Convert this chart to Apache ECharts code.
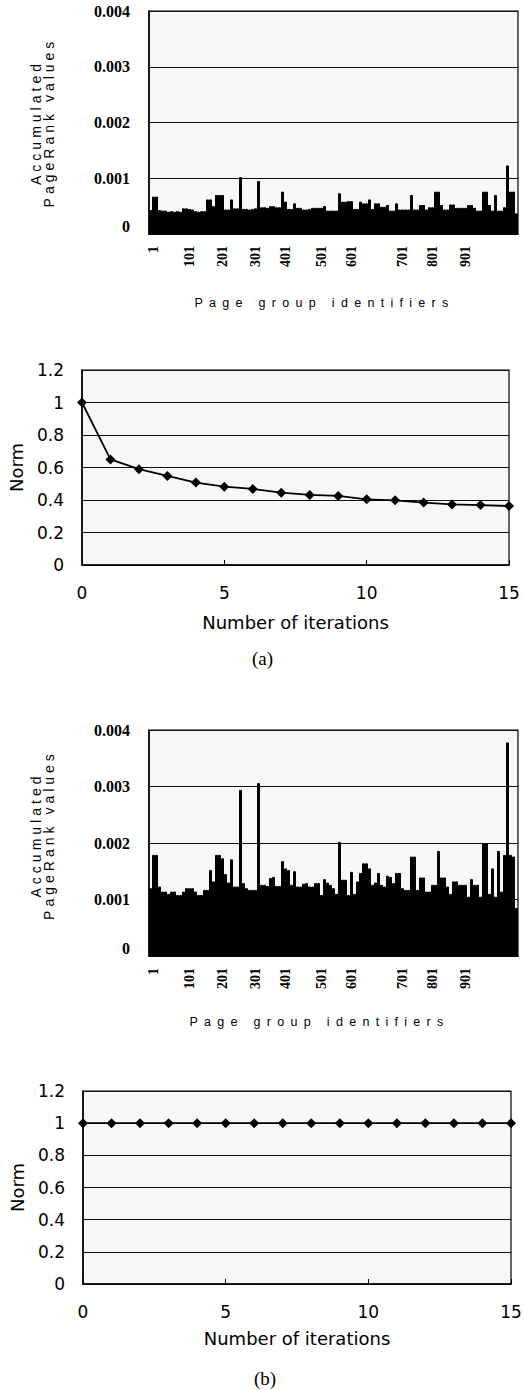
<!DOCTYPE html>
<html>
<head>
<meta charset="utf-8">
<script src="https://cdn.jsdelivr.net/npm/echarts@6/dist/echarts.min.js"></script>
<style>
html, body { margin: 0; padding: 0; background: #fff; }
#main { width: 524px; height: 1390px; }
/* the spaced-out axis titles are the only texts set in Liberation Sans */
#main text[style*="Liberation Sans"] { letter-spacing: 4px; }
#main text[style*="Liberation Sans"][style*="12.5px"] { letter-spacing: 6.3px; }
</style>
</head>
<body>
<div id="main"></div>
<script>
// accumulated PageRank per page group, in units of 0.001 (one bar per ~9 groups)
var pageRankA = [
	0.43, 0.67, 0.67, 0.43, 0.42, 0.42, 0.40, 0.41, 0.40, 0.41,
	0.40, 0.46, 0.46, 0.45, 0.44, 0.41, 0.40, 0.41, 0.41, 0.62,
	0.62, 0.50, 0.70, 0.70, 0.70, 0.44, 0.44, 0.62, 0.46, 0.46,
	1.02, 0.45, 0.45, 0.44, 0.45, 0.46, 0.95, 0.48, 0.48, 0.47,
	0.50, 0.50, 0.48, 0.48, 0.76, 0.58, 0.45, 0.45, 0.55, 0.47,
	0.47, 0.44, 0.44, 0.45, 0.47, 0.47, 0.47, 0.47, 0.50, 0.42,
	0.42, 0.42, 0.42, 0.73, 0.58, 0.58, 0.59, 0.59, 0.45, 0.45,
	0.58, 0.55, 0.55, 0.62, 0.45, 0.55, 0.55, 0.49, 0.49, 0.52,
	0.42, 0.42, 0.55, 0.44, 0.44, 0.44, 0.44, 0.70, 0.44, 0.44,
	0.52, 0.52, 0.44, 0.48, 0.48, 0.76, 0.76, 0.52, 0.44, 0.44,
	0.53, 0.53, 0.47, 0.47, 0.47, 0.47, 0.52, 0.52, 0.47, 0.42,
	0.42, 0.76, 0.76, 0.52, 0.42, 0.70, 0.42, 0.42, 0.48, 1.23,
	0.76, 0.76, 0.37
];
var pageRankB = [
	1.20, 1.79, 1.79, 1.23, 1.14, 1.14, 1.10, 1.14, 1.14, 1.08,
	1.08, 1.14, 1.20, 1.20, 1.20, 1.14, 1.08, 1.08, 1.17, 1.17,
	1.52, 1.32, 1.79, 1.79, 1.73, 1.45, 1.30, 1.71, 1.23, 1.23,
	2.94, 1.29, 1.20, 1.17, 1.17, 1.17, 3.06, 1.26, 1.26, 1.24,
	1.38, 1.40, 1.24, 1.24, 1.68, 1.55, 1.52, 1.26, 1.50, 1.23,
	1.23, 1.28, 1.29, 1.23, 1.23, 1.29, 1.29, 1.08, 1.36, 1.30,
	1.26, 1.20, 1.10, 2.02, 1.35, 1.35, 1.08, 1.49, 1.10, 1.32,
	1.47, 1.64, 1.64, 1.55, 1.26, 1.30, 1.47, 1.26, 1.23, 1.42,
	1.40, 1.29, 1.47, 1.47, 1.20, 1.17, 1.17, 1.76, 1.76, 1.17,
	1.39, 1.39, 1.14, 1.14, 1.26, 1.26, 1.86, 1.39, 1.39, 1.23,
	1.10, 1.32, 1.32, 1.26, 1.26, 1.26, 1.05, 1.36, 1.26, 1.26,
	1.05, 1.99, 1.99, 1.10, 1.55, 1.05, 1.86, 1.14, 1.79, 3.78,
	1.79, 1.76, 0.85
];
// where the page group id labels sit along the bars
var groupTickPos = [1, 13, 24, 35, 45, 57, 67, 84, 94, 105];
var groupTickText = ['1', '101', '201', '301', '401', '501', '601', '701', '801', '901'];
var barTickText = ['0', '0.001', '0.002', '0.003', '0.004'];

// norm per iteration
var iterations = [0, 1, 2, 3, 4, 5, 6, 7, 8, 9, 10, 11, 12, 13, 14, 15];
var normA = [1.0, 0.65, 0.59, 0.548, 0.507, 0.482, 0.468, 0.445, 0.431, 0.425, 0.404, 0.398, 0.384, 0.373, 0.369, 0.363];
var normB = [1, 1, 1, 1, 1, 1, 1, 1, 1, 1, 1, 1, 1, 1, 1, 1];
var normTickText = ['0', '0.2', '0.4', '0.6', '0.8', '1', '1.2'];

var SERIF = 'Liberation Serif';
var SANS = 'DejaVu Sans';
var SPACED = 'Liberation Sans';
var PLOT_BG = '#f7f7f7';

var groupIds = pageRankA.map(function (v, i) { return i; });

function makeGrid(left, top, width, height) {
	return {
		left: left, top: top, width: width, height: height,
		show: true, backgroundColor: PLOT_BG,
		borderColor: '#000', borderWidth: 1.2,
		outerBoundsMode: 'none'
	};
}

function barX(gridIndex, nameGap, shift) {
	return {
		type: 'category', gridIndex: gridIndex, data: groupIds,
		axisLine: { lineStyle: { color: '#000', width: 1.5 } },
		axisTick: { show: false },
		axisLabel: {
			rotate: 90, margin: 12, color: '#000',
			fontFamily: SERIF, fontSize: 14, fontWeight: 'bold',
			interval: function (index) { return groupTickPos.indexOf(index) >= 0; },
			formatter: function (v, index) { return groupTickText[groupTickPos.indexOf(index)]; }
		},
		name: 'Page group identifiers', nameLocation: 'middle', nameGap: nameGap,
		nameTextStyle: { color: '#000', fontFamily: SPACED, fontSize: 12.5, lineHeight: 14, padding: [0, shift, 0, 0] }
	};
}
function barY(gridIndex, shift) {
	return {
		type: 'value', gridIndex: gridIndex, min: 0, max: 4, interval: 1,
		axisLine: { show: true, lineStyle: { color: '#000', width: 1.5 } },
		axisTick: { show: false },
		splitLine: { lineStyle: { color: '#111', width: 1 } },
		axisLabel: {
			margin: 19, color: '#000', fontFamily: SERIF, fontSize: 16, fontWeight: 'bold',
			formatter: function (v, index) { return index === 0 ? '{z|0}' : barTickText[index]; },
			rich: { z: { color: '#000', fontFamily: SERIF, fontSize: 16, fontWeight: 'bold', padding: [0, 0, 16, 0] } }
		},
		name: 'Accumulated\nPageRank values', nameLocation: 'middle', nameGap: 93,
		nameTextStyle: { color: '#000', fontFamily: SPACED, fontSize: 14, lineHeight: 13.5, align: 'center', padding: [0, 0, 0, shift] }
	};
}
function lineX(gridIndex, nameGap) {
	return {
		type: 'value', gridIndex: gridIndex, min: 0, max: 15, interval: 5,
		axisLine: { lineStyle: { color: '#000', width: 1.5 } },
		axisTick: { show: true, inside: true, length: 5, lineStyle: { color: '#000' } },
		splitLine: { show: false },
		axisLabel: { margin: 19, color: '#000', fontFamily: SANS, fontSize: 17 },
		name: 'Number of iterations', nameLocation: 'middle', nameGap: nameGap,
		nameTextStyle: { color: '#000', fontFamily: SANS, fontSize: 18, lineHeight: 20 }
	};
}
function lineY(gridIndex) {
	return {
		type: 'value', gridIndex: gridIndex, min: 0, max: 1.2, interval: 0.2,
		axisLine: { show: true, lineStyle: { color: '#000', width: 1.5 } },
		axisTick: { show: false },
		splitLine: { lineStyle: { color: '#111', width: 1 } },
		axisLabel: {
			margin: 18, color: '#000', fontFamily: SANS, fontSize: 17,
			formatter: function (v, index) { return normTickText[index]; }
		},
		name: 'Norm', nameLocation: 'middle', nameGap: 55,
		nameTextStyle: { color: '#000', fontFamily: SANS, fontSize: 18, lineHeight: 20 }
	};
}
function barSeries(idx, data) {
	return {
		type: 'bar', xAxisIndex: idx, yAxisIndex: idx, data: data,
		barCategoryGap: '0%', barGap: '0%', silent: true,
		itemStyle: { color: '#000', borderColor: '#000', borderWidth: 1 }
	};
}
function lineSeries(idx, data) {
	return {
		type: 'line', xAxisIndex: idx, yAxisIndex: idx,
		data: iterations.map(function (x, i) { return [x, data[i]]; }),
		symbol: 'diamond', symbolSize: 10, clip: false, silent: true,
		lineStyle: { color: '#000', width: 1.8 },
		itemStyle: { color: '#000' }
	};
}

var myChart = echarts.init(document.getElementById('main'), null, { renderer: 'svg' });
var option = {
	animation: false,
	backgroundColor: '#fff',
	grid: [
		makeGrid(149, 11, 369, 223),
		makeGrid(82, 370, 427, 195),
		makeGrid(149, 730, 369, 226),
		makeGrid(83, 1091, 428, 193)
	],
	xAxis: [barX(0, 62, 18), lineX(1, 47), barX(2, 59, 28), lineX(3, 44)],
	yAxis: [barY(0, 0), lineY(1), barY(2, 16), lineY(3)],
	series: [
		barSeries(0, pageRankA),
		lineSeries(1, normA),
		barSeries(2, pageRankB),
		lineSeries(3, normB)
	],
	graphic: [
		{ type: 'text', left: 252, top: 649, style: { text: '(a)', font: '19px Liberation Serif', fill: '#000' } },
		{ type: 'text', left: 254, top: 1369, style: { text: '(b)', font: '19px Liberation Serif', fill: '#000' } }
	]
};
myChart.setOption(option);
</script>
</body>
</html>
